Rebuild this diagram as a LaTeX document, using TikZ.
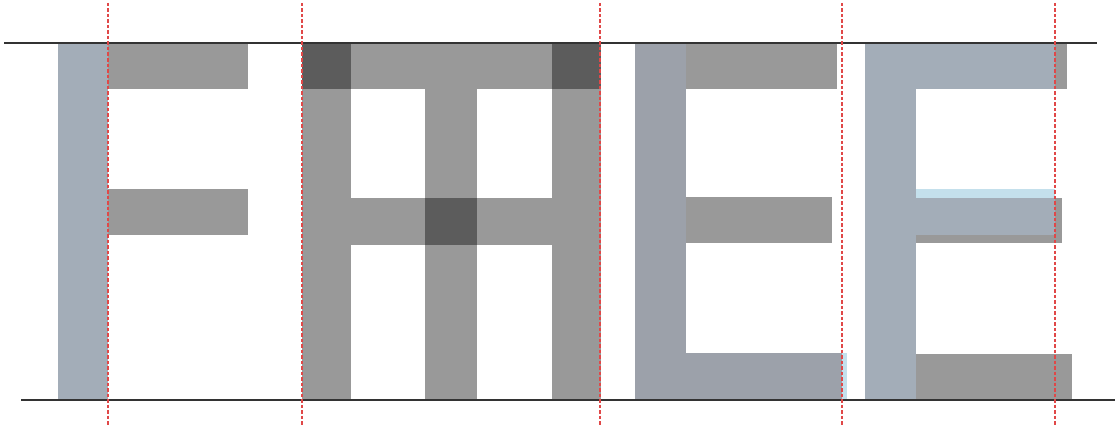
\documentclass[tikz,border=0pt]{standalone}
\usepackage{tikz}
\definecolor{bgray}{HTML}{A3ADB8}
\definecolor{lgray}{HTML}{9CA1AA}
\definecolor{lblue}{HTML}{C4E0EC}
\definecolor{mgray}{HTML}{999999}
\definecolor{guide}{HTML}{E04848}
\tikzset{
  ink/.style={fill=black, fill opacity=0.4},
  solidgray/.style={fill=mgray},
  bluegray/.style={fill=bgray},
  bluegray2/.style={fill=lgray},
  lightblue/.style={fill=lblue},
  baseline rule/.style={draw=black!80, line width=1.2pt},
  guideline/.style={draw=guide, line width=1.1pt, dash pattern=on 3.5pt off 2pt},
}
\begin{document}
\begin{tikzpicture}[x=1pt,y=-1pt]
\useasboundingbox (0,0) rectangle (1115,428);
% letter 1 : F
\path[bluegray]  (58,43) rectangle (108,400);
\path[solidgray] (108,43) rectangle (248,89);
\path[solidgray] (108,189) rectangle (248,235);
% letter 2 : H + T overlapped
\path[ink] (302,43) rectangle (351,400);
\path[ink] (552,43) rectangle (601,400);
\path[ink] (302,43) rectangle (601,89);
\path[ink] (425,89) rectangle (477,400);
\path[ink] (351,198) rectangle (552,245);
% letter 3 : L + E
\path[bluegray2] (635,43) rectangle (686,400);
\path[bluegray2] (686,353) rectangle (842,400);
\path[lightblue] (842,353) rectangle (847,400);
\path[solidgray] (686,43) rectangle (837,89);
\path[solidgray] (686,197) rectangle (832,243);
% letter 4 : E under F
\path[bluegray]  (865,43) rectangle (916,400);
\path[bluegray]  (916,43) rectangle (1055,89);
\path[solidgray] (1055,43) rectangle (1067,89);
\path[solidgray] (916,198) rectangle (1062,243);
\path[lightblue] (916,189) rectangle (1055,198);
\path[bluegray]  (916,198) rectangle (1055,235);
\path[solidgray] (916,354) rectangle (1072,400);
% cap line and base line
\coordinate (capL) at (4,43);
\coordinate (capR) at (1097,43);
\coordinate (baseL) at (21,400);
\coordinate (baseR) at (1115,400);
\draw[baseline rule] (capL) -- (capR);
\draw[baseline rule] (baseL) -- (baseR);
% guides
\foreach \gx in {108,302,600,842,1055}{
  \draw[guideline] (\gx,3) -- (\gx,425);
}
\end{tikzpicture}
\end{document}
